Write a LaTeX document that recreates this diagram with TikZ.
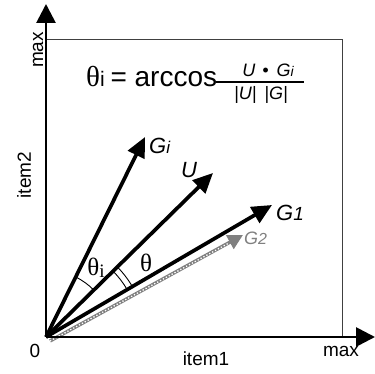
\documentclass[tikz,border=0pt]{standalone}
\usepackage{fontspec}
\setmainfont{Liberation Sans}
\newfontfamily\thfont{Liberation Serif}
\usetikzlibrary{arrows.meta,calc}
\begin{document}
\begin{tikzpicture}[x=1pt,y=-1pt,
  axisline/.style={line width=2.8pt, -{Triangle[length=19pt,width=19pt]}},
  vecline/.style={line width=3.7pt, -{Triangle[length=20pt,width=18pt]}},
  axlbl/.style={inner sep=0pt, font=\fontsize{19}{19}\selectfont},
  veclbl/.style={inner sep=0pt, font=\fontsize{22}{22}\selectfont\itshape},
  anglbl/.style={inner sep=0pt, font=\fontsize{25}{25}\selectfont\thfont},
  boxline/.style={line width=0.9pt, black!75},
  arcline/.style={line width=0.9pt}
]
\useasboundingbox (0,0) rectangle (375,374);
% coordinates
\coordinate (O) at (46,337);
\coordinate (ytip) at (46,4);
\coordinate (xtip) at (375,337);
\coordinate (boxtl) at (46,39);
\coordinate (boxtr) at (342,39);
\coordinate (boxbr) at (342,337);
\coordinate (Gi) at (145,137);
\coordinate (U) at (213,173);
\coordinate (G1) at (272,205);
\coordinate (G2s) at (50,341);
\coordinate (G2e) at (243,235);
\coordinate (G2m) at (229,243);
% frame
\draw[boxline] (boxtl) -- (boxtr) -- (boxbr);
% G2 hatched vector
\draw[black!50, line width=3.4pt, -{Triangle[length=15pt,width=15pt]}] (G2s) -- (G2e);
\draw[white, line width=1.3pt, dash pattern=on 1.3pt off 2pt] (G2s) -- (G2m);
% axes
\draw[axisline] (O) -- (ytip);
\draw[axisline] (O) -- (xtip);
% vectors
\draw[vecline] (O) -- (Gi);
\draw[vecline] (O) -- (U);
\draw[vecline] (O) -- (G1);
% angle arcs
\draw[arcline] ($(O)+(-44.3:67)$) arc[start angle=-44.3, end angle=-63.5, radius=67];
\draw[arcline] ($(O)+(-30.1:94)$) arc[start angle=-30.1, end angle=-44.3, radius=94];
\draw[arcline] ($(O)+(-30.1:100)$) arc[start angle=-30.1, end angle=-44.3, radius=100];
% labels
\node[anglbl] (thi) at (96,268) {θ\raisebox{-2pt}{\fontsize{19}{19}\selectfont i}};
\node[anglbl] (th) at (146,263) {θ};
\node[veclbl, anchor=west] (lGi) at (149,146) {G\fontsize{17}{17}\selectfont i};
\node[veclbl] (lU) at (189,170) {U};
\node[veclbl, anchor=west] (lG1) at (276,213) {G\fontsize{19}{19}\selectfont 1};
\node[veclbl, anchor=west, text=black!50, font=\fontsize{18}{18}\selectfont\itshape] (lG2) at (244,238) {G\fontsize{16}{16}\selectfont 2};
\node[axlbl] (lzero) at (35,351) {0};
\node[axlbl] (lmaxx) at (341,351) {max};
\node[axlbl] (litem1) at (206,359) {item1};
\node[axlbl, rotate=90] (lmaxy) at (38,50) {max};
\node[axlbl, rotate=90] (litem2) at (24,175) {item2};
% formula
\node[inner sep=0pt, anchor=base west, font=\fontsize{28}{28}\selectfont] (eq) at (86,87)
  {{\thfont\fontsize{29}{29}\selectfont θ}{\fontsize{21}{21}\selectfont i}\hspace{-2pt} = arccos};
\coordinate (barl) at (216,82);
\coordinate (barr) at (304,82);
\draw[line width=1.4pt] (barl) -- (barr);
\node[inner sep=0pt, anchor=base, font=\fontsize{18}{18}\selectfont\itshape] (num) at (268,77)
  {U\hspace{7pt}\textbullet\hspace{8pt}G{\fontsize{14}{14}\selectfont i}};
\node[inner sep=0pt, anchor=base, font=\fontsize{18}{18}\selectfont\itshape] (den) at (261,100)
  {|U|\hspace{8pt}|G|};
\end{tikzpicture}
\end{document}
